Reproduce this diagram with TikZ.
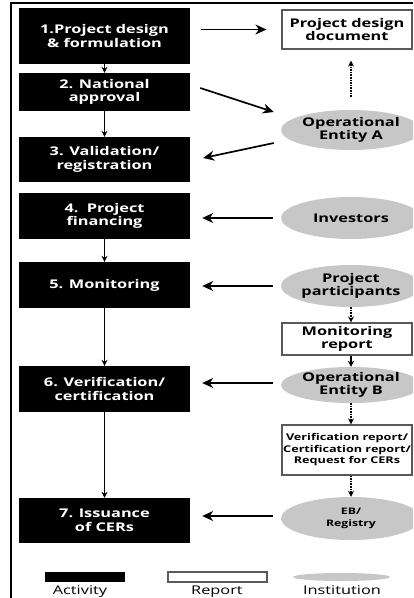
\documentclass[tikz,border=0pt]{standalone}
\usepackage{fontspec}
\setmainfont{Open Sans}[FakeStretch=1.36]
\usetikzlibrary{arrows.meta,shapes.geometric}
\begin{document}
\begin{tikzpicture}[x=1pt,y=-1pt,
  activity/.style={fill=black, text=white, font=\bfseries\fontsize{12}{13.5}\selectfont,
    minimum width=171pt, align=center, inner sep=0pt},
  report/.style={draw=black!65, line width=1.2pt, fill=white,
    font=\bfseries\fontsize{12}{13.5}\selectfont, minimum width=130pt, align=center, inner sep=0pt},
  inst/.style={ellipse, fill=black!22, minimum width=140pt, align=center, inner sep=0pt,
    font=\bfseries\fontsize{12}{13.5}\selectfont},
  link/.style={-{Stealth[length=11pt,width=10pt]}, line width=1.7pt},
  shortlink/.style={-{Stealth[length=6pt,width=6pt]}, line width=1.6pt},
  dotlink/.style={shortlink, densely dotted, line width=1.6pt},
  legendtext/.style={font=\fontsize{12}{13.5}\selectfont, anchor=base}
]
\clip (0,0) rectangle (413,598);

% frame
\draw[line width=2.5pt] (11,600) -- (11,3) -- (420,3);

% activities
\node[activity, minimum height=56pt] (b1) at (104.5,36)    {1.Project design\\\& formulation};
\node[activity, minimum height=38pt] (b2) at (104.5,92)    {2. National\\approval};
\node[activity, minimum height=45pt] (b3) at (104.5,159.5) {3. Validation/\\registration};
\node[activity, minimum height=46pt] (b4) at (104.5,216)   {4.\ \ Project\\financing};
\node[activity, minimum height=46pt] (b5) at (104.5,285)   {5. Monitoring};
\node[activity, minimum height=46pt] (b6) at (104.5,389)   {6. Verification/\\certification};
\node[activity, minimum height=45pt] (b7) at (104.5,520.5) {7. Issuance\\of CERs};

% reports
\node[report, minimum height=39pt] (pdd) at (347,29.5) {Project design\\document};
\node[report, minimum height=32pt] (mr)  at (347,339)  {Monitoring\\report};
\node[report, minimum height=50pt, font=\bfseries\fontsize{9.3}{11.5}\selectfont]
  (vr) at (347,450) {Verification report/\\Certification report/\\Request for CERs};

% institutions
\node[inst, minimum height=40pt] (oea) at (351,130) {Operational\\Entity A};
\node[inst, minimum height=42pt] (inv) at (351,218) {Investors};
\node[inst, minimum height=42pt] (pp)  at (351,286) {Project\\participants};
\node[inst, minimum height=36pt] (oeb) at (351,385) {Operational\\Entity B};
\node[inst, minimum height=43pt, font=\bfseries\fontsize{9}{12}\selectfont]
  (eb) at (351,518.5) {EB/\\Registry};

% main sequence
\draw[shortlink] (b1) -- (b2);
\draw[shortlink] (b2) -- (b3);
\draw[shortlink] (b4) -- (b5);
\draw[shortlink] (b5) -- (b6);
\draw[shortlink] (b6) -- (b7);

% exchanges with the right column
\draw[link, shorten <=11pt, shorten >=15pt] (b1.east |- pdd.west) -- (pdd.west);
\draw[link] ([shift={(10pt,4pt)}]b2.east) -- ([shift={(-7pt,18pt)}]oea.west);
\draw[link] ([shift={(-7pt,-13pt)}]oea.west) -- ([shift={(13pt,1.5pt)}]b3.east);
\draw[link, shorten <=8pt, shorten >=12pt] (inv.west) -- (inv.west -| b4.east);
\draw[link, shorten <=8pt, shorten >=12pt] (pp.west)  -- (pp.west -| b5.east);
\draw[link, shorten <=8pt, shorten >=12pt] ([yshift=2pt]oeb.west) -- ([yshift=2pt]oeb.west -| b6.east);
\draw[link, shorten <=8pt, shorten >=12pt] ([yshift=2.5pt]eb.west) -- ([yshift=2.5pt]eb.west -| b7.east);

% right column flow
\draw[dotlink, shorten <=13pt, shorten >=11pt] (oea.north) -- (oea.north |- pdd.south);
\draw[dotlink] (pp.south) -- (pp.south |- mr.north);
\draw[shortlink] (oea.center |- mr.south) -- (oeb.north);
\draw[dotlink] (oeb.south) -- (oeb.south |- vr.north);
\draw[dotlink] (oeb.center |- vr.south) -- (eb.north);

% legend
\node[fill=black, minimum width=80pt, minimum height=10pt, inner sep=0pt] (lga) at (85,577) {};
\node[draw=black!65, line width=1.2pt, fill=white, minimum width=99pt, minimum height=10pt, inner sep=0pt] (lgr) at (217.5,577) {};
\node[ellipse, fill=black!22, minimum width=97pt, minimum height=8pt, inner sep=0pt] (lgi) at (341.5,577) {};
\node[legendtext] (lta) at (80,594.5)  {Activity};
\node[legendtext] (ltr) at (217,594.5) {Report};
\node[legendtext] (lti) at (342,594.5) {Institution};
\end{tikzpicture}
\end{document}
